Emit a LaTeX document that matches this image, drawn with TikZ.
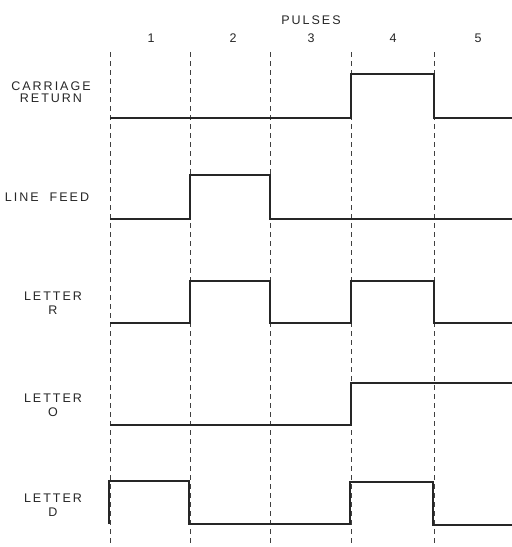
\documentclass[tikz,border=0pt]{standalone}
\usepackage{fontspec}
\setmainfont{Liberation Sans}[LetterSpace=16]
\begin{document}
\begin{tikzpicture}[x=1pt,y=-1pt,
  lbl/.style={font=\fontsize{12.5}{13}\selectfont, text=black!85, inner sep=0pt, align=center},
  grid/.style={dashed, dash pattern=on 5pt off 4pt, line width=0.7pt, black!75},
  sig/.style={line width=1.2pt, black!85, line join=miter}]
  \useasboundingbox[fill=white] (0,0) rectangle (512,547);

  % pulse boundaries
  \foreach \gx in {110,190,270,351,434}
    \draw[grid] (\gx,52) -- (\gx,547);

  % heading and pulse numbers
  \node[lbl] (hdr) at (311,20) {PULSES};
  \node[lbl] (p1) at (151,38) {1};
  \node[lbl] (p2) at (233,38) {2};
  \node[lbl] (p3) at (311,38) {3};
  \node[lbl] (p4) at (393,38) {4};
  \node[lbl] (p5) at (478,38) {5};

  % row labels
  \node[lbl] (cr) at (51,92.5) {CARRIAGE\\[-1pt]RETURN};
  \node[lbl] (lf) at (47,197) {LINE\ \ FEED};
  \node[lbl] (lr) at (53,303.5) {LETTER\\[1pt]R};
  \node[lbl] (lo) at (53,405.5) {LETTER\\[1pt]O};
  \node[lbl] (ld) at (53,505.5) {LETTER\\[1pt]D};

  % carriage return: pulse 4
  \draw[sig] (110,118) -- (351,118) -- (351,74) -- (434,74) -- (434,118) -- (512,118);
  % line feed: pulse 2
  \draw[sig] (110,219) -- (190,219) -- (190,175) -- (270,175) -- (270,219) -- (512,219);
  % letter R: pulses 2 and 4
  \draw[sig] (110,323) -- (190,323) -- (190,281) -- (270,281) -- (270,323) -- (351,323)
    -- (351,281) -- (434,281) -- (434,323) -- (512,323);
  % letter O: pulses 4 and 5
  \draw[sig] (110,425) -- (351,425) -- (351,383) -- (512,383);
  % letter D: pulses 1 and 4
  \draw[sig] (109,524) -- (109,481) -- (189,481) -- (189,524) -- (350,524)
    -- (350,482) -- (433,482) -- (433,525) -- (512,525);
\end{tikzpicture}
\end{document}
